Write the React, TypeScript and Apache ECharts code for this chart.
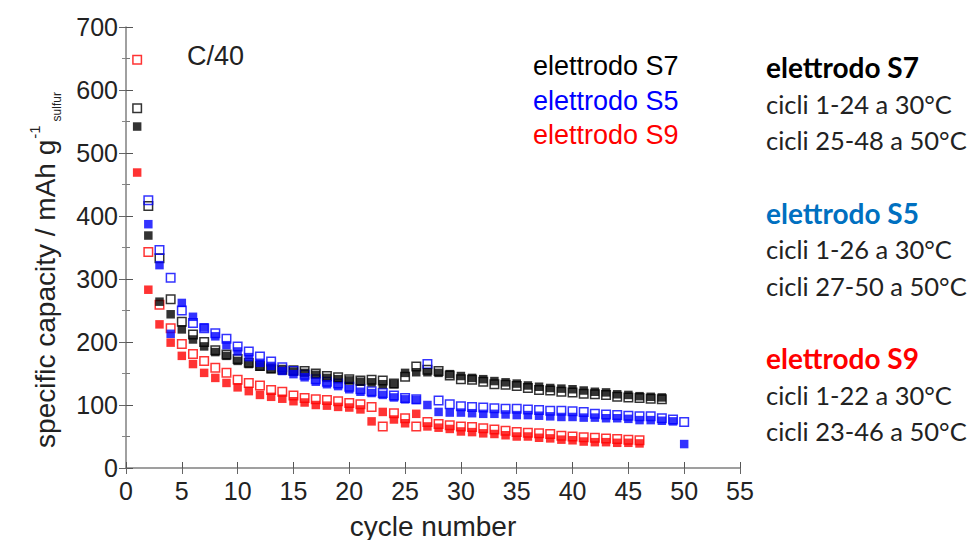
import React, { useEffect, useRef } from "react";
import * as echarts from "echarts";

// ---- data (specific capacity, mAh g-1, per cycle) ----
const s7Start = 1; // cycles 1-48
const s7Filled = [542, 369, 264, 244, 220, 204, 193, 184, 178, 170, 165, 161, 157, 155, 153, 151, 148, 143, 141, 139, 137, 136, 133, 133, 151, 152, 152, 151, 149, 146, 143, 141, 138, 136, 134, 131, 129, 127, 126, 125, 123, 121, 120, 117, 116, 114, 113, 112];
const s7Open = [571, 416, 333, 268, 232, 212, 200, 187, 180, 173, 167, 162, 158, 156, 155, 154, 150, 146, 144, 141, 139, 140, 139, 134, 145, 161, 156, 154, 147, 141, 140, 137, 133, 132, 130, 127, 124, 123, 121, 120, 118, 117, 116, 113, 112, 111, 110, 109];

const s5Start = 2; // cycles 2-50
const s5Filled = [387, 322, 213, 262, 240, 223, 209, 195, 185, 176, 167, 162, 154, 149, 144, 137, 133, 130, 125, 121, 119, 116, 112, 109, 108, 100, 89, 88, 88, 87, 86, 86, 85, 84, 84, 83, 82, 81, 81, 80, 80, 79, 79, 78, 76, 76, 75, 74, 38];
const s5Open = [425, 346, 302, 250, 230, 222, 214, 205, 193, 185, 177, 169, 160, 154, 148, 141, 137, 134, 129, 125, 122, 119, 115, 111, 109, 165, 107, 101, 98, 97, 96, 95, 94, 94, 93, 92, 91, 91, 90, 89, 86, 85, 84, 83, 82, 82, 79, 77, 73];

const s9Start = 1; // cycles 1-46
const s9Filled = [469, 283, 228, 199, 178, 165, 151, 143, 135, 128, 122, 116, 113, 110, 106, 104, 100, 99, 97, 96, 93, 74, 89, 77, 71, 86, 66, 64, 62, 58, 57, 55, 54, 52, 50, 50, 48, 47, 45, 44, 42, 41, 41, 40, 40, 39];
const s9Open = [648, 343, 259, 222, 197, 181, 170, 159, 151, 140, 135, 131, 124, 121, 115, 111, 109, 108, 106, 103, 101, 97, 66, 87, 79, 66, 73, 70, 68, 66, 65, 63, 61, 59, 57, 56, 55, 54, 51, 50, 49, 48, 47, 46, 45, 44];

const xTicks = { min: 0, max: 55, interval: 5 };
const yTicks = { min: 0, max: 700, interval: 100 };

const legendLabels = ["elettrodo S7", "elettrodo S5", "elettrodo S9"];
const seriesColors = ["#000000", "#0000ff", "#ff0000"];
const notes = [
  { head: "elettrodo S7", color: "#000000", lines: ["cicli 1-24 a 30°C", "cicli 25-48 a 50°C"] },
  { head: "elettrodo S5", color: "#0070c0", lines: ["cicli 1-26 a 30°C", "cicli 27-50 a 50°C"] },
  { head: "elettrodo S9", color: "#ff0000", lines: ["cicli 1-22 a 30°C", "cicli 23-46 a 50°C"] },
];

const toPairs = (start: number, vals: number[]) => vals.map((v, i) => [start + i, v]);

const ARIAL = "'Liberation Sans', Arial, sans-serif";
const CALIBRI = "Lato, 'Open Sans', sans-serif";

export default function App() {
  const ref = useRef<HTMLDivElement>(null);
  useEffect(() => {
    document.body.style.margin = "0";
    if (!ref.current) return;
    const chart = echarts.init(ref.current, undefined, { renderer: "svg" });

    const openSeries = (name: string, start: number, vals: number[], color: string) => ({
      name,
      type: "scatter",
      symbol: "rect",
      symbolSize: 8.5,
      data: toPairs(start, vals),
      itemStyle: { color: "rgba(255,255,255,0)", borderColor: color, borderWidth: 1.5 },
      z: 2,
    });
    const filledSeries = (name: string, start: number, vals: number[], color: string) => ({
      name,
      type: "scatter",
      symbol: "rect",
      symbolSize: 8.5,
      data: toPairs(start, vals),
      itemStyle: { color },
      z: 3,
    });

    const graphics: any[] = [];
    graphics.push({
      type: "text",
      left: 187,
      top: 42,
      style: { text: "C/40", font: `27px ${ARIAL}`, fill: "#222" },
    });
    legendLabels.forEach((t, i) => {
      graphics.push({
        type: "text",
        x: 533,
        y: 66 + i * 34.5,
        style: { text: t, font: `27px ${ARIAL}`, fill: seriesColors[i], verticalAlign: "middle" },
      });
    });
    notes.forEach((n, i) => {
      const y0 = 67 + i * 145.5;
      graphics.push({
        type: "text",
        x: 766,
        y: y0,
        style: { text: n.head, font: `bold 28px ${CALIBRI}`, fill: n.color, verticalAlign: "middle" },
      });
      n.lines.forEach((l, j) => {
        graphics.push({
          type: "text",
          x: 766,
          y: y0 + 36.5 * (j + 1),
          style: { text: l, font: `25.5px ${CALIBRI}`, fill: "#222", verticalAlign: "middle" },
        });
      });
    });
    graphics.push({
      type: "text",
      x: 45,
      y: 270,
      rotation: Math.PI / 2,
      style: {
        text: "{a|specific capacity / mAh g}{b|-1}{c|sulfur}",
        align: "center",
        verticalAlign: "middle",
        fill: "#222",
        rich: {
          a: { fontSize: 28, fontFamily: ARIAL, lineHeight: 36, fill: "#222" },
          b: { fontSize: 15, fontFamily: ARIAL, verticalAlign: "top", lineHeight: 36, fill: "#222", padding: [0, 4, 0, 1] },
          c: { fontSize: 12, fontFamily: ARIAL, verticalAlign: "bottom", lineHeight: 36, fill: "#222" },
        },
      },
    });

    const axisLabel = { fontSize: 25, fontFamily: ARIAL, color: "#222" };
    chart.setOption({
      animation: false,
      backgroundColor: "#ffffff",
      grid: { left: 126, right: 236, top: 27, bottom: 72, containLabel: false, outerBoundsMode: "none" },
      xAxis: [
        {
          type: "value",
          position: "bottom",
          ...xTicks,
          name: "cycle number",
          nameLocation: "middle",
          nameGap: 44,
          nameTextStyle: { fontSize: 28, fontFamily: ARIAL, color: "#222" },
          axisLine: { show: true, lineStyle: { color: "#808080", width: 1.5 } },
          axisTick: { show: true, inside: true, length: 6, lineStyle: { color: "#555" } },
          axisLabel: { ...axisLabel, margin: 10 },
          splitLine: { show: false },
        },
        {
          type: "value",
          position: "top",
          ...xTicks,
          axisLine: { show: false },
          axisTick: { show: true, inside: true, length: 6, lineStyle: { color: "#666" } },
          axisLabel: { show: false },
          splitLine: { show: false },
        },
      ],
      yAxis: [
        {
          type: "value",
          position: "left",
          ...yTicks,
          axisLine: { show: true, lineStyle: { color: "#808080", width: 1.5 } },
          axisTick: { show: true, inside: true, length: 7, lineStyle: { color: "#555" } },
          minorTick: { show: true, splitNumber: 2, length: 4, lineStyle: { color: "#777" } },
          axisLabel: { ...axisLabel, margin: 8 },
          splitLine: { show: false },
        },
        {
          type: "value",
          position: "right",
          ...yTicks,
          axisLine: { show: false },
          axisTick: { show: true, inside: true, length: 7, lineStyle: { color: "#666" } },
          minorTick: { show: true, splitNumber: 2, length: 4, lineStyle: { color: "#888" } },
          axisLabel: { show: false },
          splitLine: { show: false },
        },
      ],
      series: [
        openSeries("S7 open", s7Start, s7Open, seriesColors[0]),
        openSeries("S5 open", s5Start, s5Open, seriesColors[1]),
        openSeries("S9 open", s9Start, s9Open, seriesColors[2]),
        filledSeries("S7", s7Start, s7Filled, seriesColors[0]),
        filledSeries("S5", s5Start, s5Filled, seriesColors[1]),
        filledSeries("S9", s9Start, s9Filled, seriesColors[2]),
      ],
      graphic: graphics,
    });
    return () => chart.dispose();
  }, []);
  return <div ref={ref} style={{ position: "absolute", left: 0, top: 0, width: 976, height: 540, background: "#fff" }} />;
}
